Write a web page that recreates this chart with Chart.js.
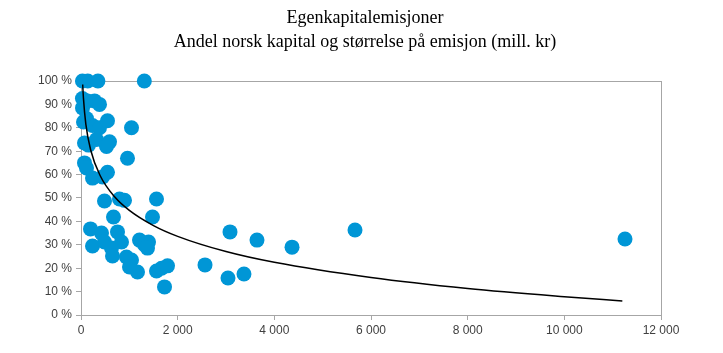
<!DOCTYPE html>
<html>
<head>
<meta charset="utf-8">
<script src="https://cdn.jsdelivr.net/npm/chart.js@4"></script>
<style>
  html, body { margin: 0; padding: 0; background: #fff; }
  #wrap { width: 723px; height: 353px; }
</style>
</head>
<body>
<div id="wrap"><canvas id="myChart" width="723" height="353"></canvas></div>
<script>
// emisjonsstørrelse (mill. kr) og andel norsk kapital (%)
const sizes = [30, 140, 350, 1310,
  30, 135, 280, 383, 31, 114, 238, 52, 383, 548, 1045,
  72, 320, 590, 528, 155, 962, 72, 114, 238, 445, 548,
  486, 797, 900, 1562, 672, 1479, 197, 424, 755,
  238, 486, 838, 631, 652, 1210, 1314, 1397, 1376,
  941, 1045, 1003, 1169, 1562, 1666, 1790, 1728,
  2566, 3083, 3041, 3372, 3641, 4366, 5669, 11255];
const shares = [100, 100, 100, 100,
  92.5, 91.5, 91.5, 90, 88.5, 84, 81, 82.5, 80, 83, 80,
  73.5, 75, 74, 72, 72.6, 67, 65, 62.8, 58.5, 59, 61,
  48.7, 49.6, 49, 49.6, 41.9, 41.9, 36.8, 35, 35.5,
  29.5, 31.2, 31.2, 28.6, 25.2, 32, 30, 31.2, 28.6,
  24.8, 23.5, 20.5, 18.4, 18.8, 20, 21, 12,
  21.4, 35.5, 15.8, 17.5, 32, 29, 36.3, 32.5];

// trendlinje (logaritmisk)
const trendX = [35, 50, 100, 200, 400, 700, 1000, 1500, 2000, 3000, 4000, 6000, 8000, 10000, 11200];
const trendY = [98.5, 92.8, 81.6, 70.5, 59.4, 50.4, 44.7, 38.2, 33.6, 27.1, 22.5, 16.0, 11.3, 7.8, 6.0];

const xTicks = [0, 2000, 4000, 6000, 8000, 10000, 12000];
const yTicks = [0, 10, 20, 30, 40, 50, 60, 70, 80, 90, 100];

const points = sizes.map((s, i) => ({ x: s, y: shares[i] }));
const trend = trendX.map((t, i) => ({ x: t, y: trendY[i] }));

const boxPlugin = {
  id: 'box',
  beforeDatasetsDraw(chart) {
    const a = chart.chartArea;
    const c = chart.ctx;
    c.save();
    c.strokeStyle = '#a6a6a6';
    c.lineWidth = 1;
    c.strokeRect(Math.round(a.left) + 0.5, Math.round(a.top) + 0.5,
      Math.round(a.right - a.left), Math.round(a.bottom - a.top));
    c.restore();
  }
};

const tickFont = { family: 'Liberation Sans, Arial, sans-serif', size: 12 };

let ctx = document.getElementById('myChart').getContext('2d');
const myChart = new Chart(ctx, {
  type: 'scatter',
  data: {
    datasets: [{
      type: 'line',
      data: trend,
      borderColor: '#000',
      borderWidth: 1.5,
      pointRadius: 0,
      fill: false,
      cubicInterpolationMode: 'monotone',
      order: 0
    }, {
      data: points,
      backgroundColor: '#0096d6',
      borderWidth: 0,
      pointRadius: 7.5,
      pointHoverRadius: 7.5,
      clip: false,
      order: 1
    }]
  },
  options: {
    responsive: false,
    animation: false,
    layout: { padding: { left: 7, right: 0, top: 0, bottom: 0 } },
    plugins: {
      legend: { display: false },
      tooltip: { enabled: false },
      title: {
        display: true,
        text: ['Egenkapitalemisjoner', 'Andel norsk kapital og størrelse på emisjon (mill. kr)'],
        color: '#000',
        font: { family: 'Liberation Serif, Times New Roman, serif', size: 18, weight: 'normal', lineHeight: 1.333 },
        padding: { top: 6, bottom: 27 }
      }
    },
    scales: {
      x: {
        type: 'linear',
        min: 0,
        max: 12000,
        afterBuildTicks: s => { s.ticks = xTicks.map(v => ({ value: v })); },
        afterFit: s => { s.height = 38; },
        ticks: {
          color: '#404040',
          font: tickFont,
          padding: 3,
          maxRotation: 0,
          callback: v => v.toString().replace(/\B(?=(\d{3})+(?!\d))/g, ' ')
        },
        grid: { drawOnChartArea: false, drawTicks: true, tickLength: 5, color: '#a6a6a6' },
        border: { display: true, color: '#a6a6a6' }
      },
      y: {
        min: 0,
        max: 100,
        afterBuildTicks: s => { s.ticks = yTicks.map(v => ({ value: v })); },
        afterFit: s => { s.width = 74; },
        ticks: {
          color: '#404040',
          font: tickFont,
          padding: 4,
          callback: v => v + ' %'
        },
        grid: { drawOnChartArea: false, drawTicks: true, tickLength: 5, color: '#a6a6a6' },
        border: { display: true, color: '#a6a6a6' }
      },
      y2: {
        position: 'right',
        min: 0,
        max: 100,
        afterFit: s => { s.width = 62; },
        ticks: { display: false },
        grid: { display: false },
        border: { display: false }
      }
    }
  },
  plugins: [boxPlugin]
});
</script>
</body>
</html>
